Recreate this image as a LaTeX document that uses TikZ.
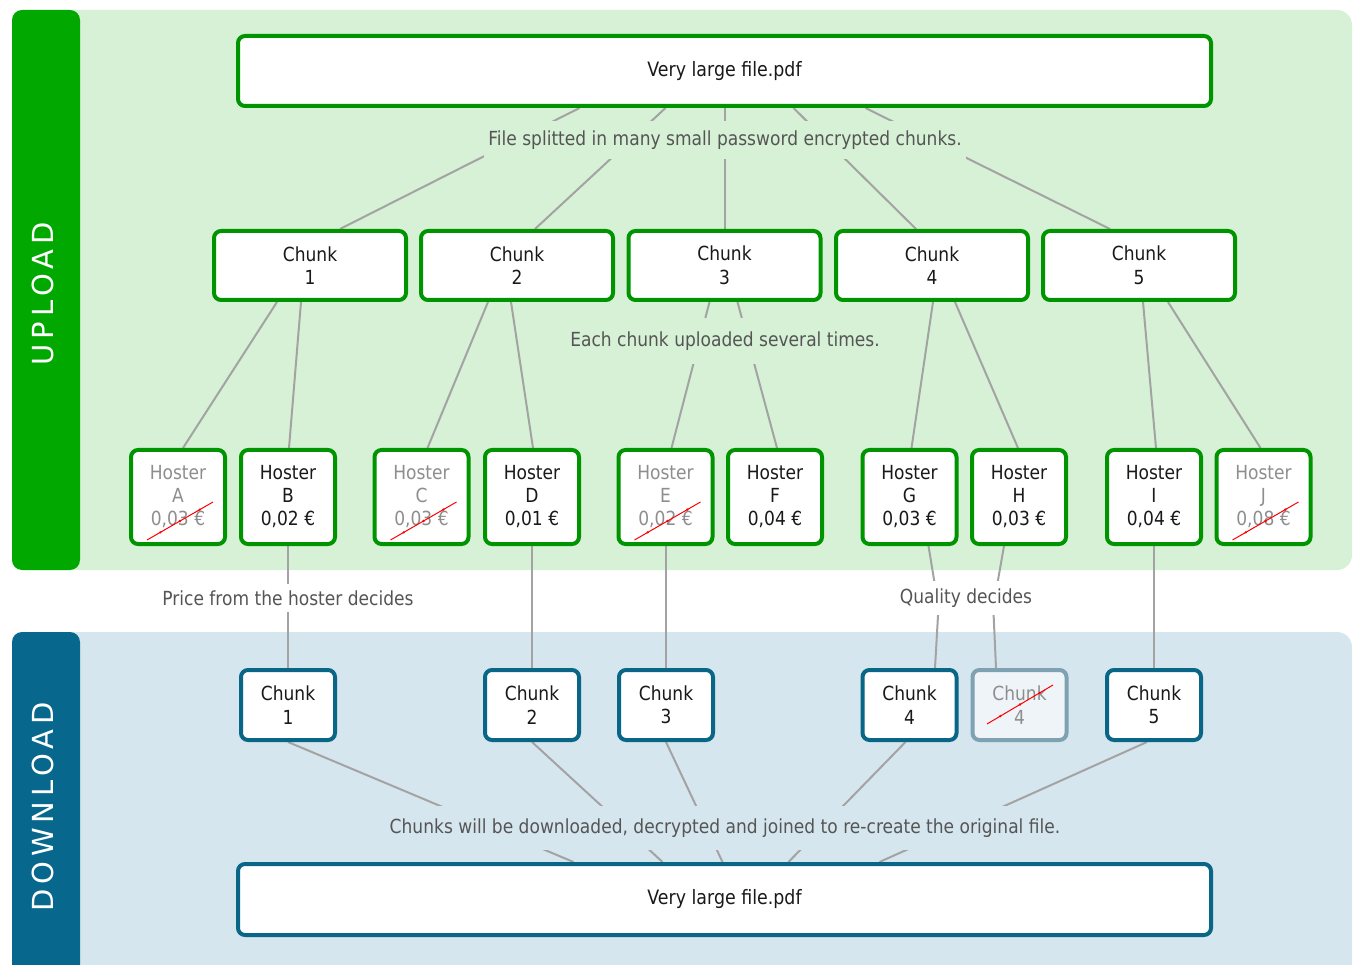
\documentclass[tikz,border=0pt]{standalone}
\usepackage{fontspec}
\setmainfont{DejaVu Sans}[FakeStretch=0.88]
\newfontfamily\titlefont{DejaVu Sans}[LetterSpace=17]
\usetikzlibrary{calc,backgrounds}
\definecolor{upbar}{HTML}{00A800}
\definecolor{upborder}{HTML}{009400}
\definecolor{upbg}{HTML}{D6F1D6}
\definecolor{dlbar}{HTML}{07678C}
\definecolor{dlborder}{HTML}{0A6687}
\definecolor{dlbg}{HTML}{D6E6EE}
\definecolor{deadborder}{HTML}{7FA2B2}
\definecolor{deadfill}{HTML}{EEF4F7}
\definecolor{conncol}{HTML}{A3A3A3}
\definecolor{labcol}{HTML}{555555}
\definecolor{deadtext}{HTML}{8E8E8E}
\tikzset{
  box/.style={draw, line width=4pt, rounded corners=7pt, fill=white, align=center,
    inner sep=0pt, font=\fontsize{19.4}{23.5}\selectfont, text=black!90},
  upbox/.style={box, draw=upborder},
  dlbox/.style={box, draw=dlborder},
  filebox/.style={minimum width=973pt, minimum height=70pt, font=\fontsize{19.8}{23.5}\selectfont},
  chunkbox/.style={minimum width=192pt, minimum height=69pt},
  hosterbox/.style={minimum width=94pt, minimum height=94pt, font=\fontsize{19.4}{23}\selectfont},
  dlchunkbox/.style={minimum width=94pt, minimum height=70pt},
  dead/.style={text=deadtext},
  deaddl/.style={draw=deadborder, fill=deadfill, text=deadtext},
  lab/.style={text=labcol, font=\fontsize{19.4}{22}\selectfont, inner xsep=4pt, inner ysep=10pt},
  conn/.style={draw=conncol, line width=2pt},
  strike/.style={draw=red, line width=1pt},
  title/.style={rotate=90, text=white, font=\titlefont\fontsize{29}{32}\selectfont, inner sep=0pt}
}
\begin{document}
\begin{tikzpicture}[x=1pt,y=-1pt]
\useasboundingbox (0,0) rectangle (1358,965);
\begin{pgfonlayer}{background}
  \fill[upbg, rounded corners=15pt] (12,10) rectangle (1352,570);
  \fill[upbar, rounded corners=10pt] (12,10) rectangle (80,570);
  \fill[dlbg, rounded corners=15pt] (12,632) rectangle (1352,990);
  \fill[dlbar, rounded corners=10pt] (12,632) rectangle (80,990);
\end{pgfonlayer}

\node[title] (tup) at (42.5,294) {UPLOAD};
\node[title] (tdl) at (43.3,807) {DOWNLOAD};

% upload
\node[upbox, filebox] (top) at (724.5,71) {Very large file.pdf};
\node[upbox, chunkbox] (c1) at (310,265.5) {Chunk\\1};
\node[upbox, chunkbox] (c2) at (517,265.5) {Chunk\\2};
\node[upbox, chunkbox] (c3) at (724.5,265.5) {Chunk\\3};
\node[upbox, chunkbox] (c4) at (932,265.5) {Chunk\\4};
\node[upbox, chunkbox] (c5) at (1139,265.5) {Chunk\\5};

\node[upbox, hosterbox, dead] (hA) at (178,497) {Hoster\\A\\0,03 €};
\node[upbox, hosterbox] (hB) at (288,497) {Hoster\\B\\0,02 €};
\node[upbox, hosterbox, dead] (hC) at (421.5,497) {Hoster\\C\\0,03 €};
\node[upbox, hosterbox] (hD) at (532,497) {Hoster\\D\\0,01 €};
\node[upbox, hosterbox, dead] (hE) at (665.5,497) {Hoster\\E\\0,02 €};
\node[upbox, hosterbox] (hF) at (775,497) {Hoster\\F\\0,04 €};
\node[upbox, hosterbox] (hG) at (909.5,497) {Hoster\\G\\0,03 €};
\node[upbox, hosterbox] (hH) at (1019,497) {Hoster\\H\\0,03 €};
\node[upbox, hosterbox] (hI) at (1154,497) {Hoster\\I\\0,04 €};
\node[upbox, hosterbox, dead] (hJ) at (1263.5,497) {Hoster\\J\\0,08 €};

% download
\node[dlbox, dlchunkbox] (d1) at (288,705) {Chunk\\1};
\node[dlbox, dlchunkbox] (d2) at (532,705) {Chunk\\2};
\node[dlbox, dlchunkbox] (d3) at (666,705) {Chunk\\3};
\node[dlbox, dlchunkbox] (d4) at (909.5,705) {Chunk\\4};
\node[dlbox, dlchunkbox, deaddl] (d4x) at (1019.5,705) {Chunk\\4};
\node[dlbox, dlchunkbox] (d5) at (1154,705) {Chunk\\5};
\node[dlbox, filebox, minimum height=71pt] (bot) at (724.5,899.5) {Very large file.pdf};

% labels
\node[lab, fill=upbg] (l1) at (725,140) {File splitted in many small password encrypted chunks.};
\node[lab, fill=upbg, inner ysep=14pt] (l2) at (725,341) {Each chunk uploaded several times.};
\node[lab, fill=white, inner ysep=6pt] (l3) at (288,598) {Price from the hoster decides};
\node[lab, fill=white, inner ysep=8pt] (l4) at (966,598) {Quality decides};
\node[lab, fill=dlbg, inner ysep=13pt] (l5) at (725,828) {Chunks will be downloaded, decrypted and joined to re-create the original file.};

\begin{pgfonlayer}{background}
  % file -> chunks
  \draw[conn] ($(top.south)+(-145,0)$) -- ($(c1.north)+(30,0)$);
  \draw[conn] ($(top.south)+(-59,0)$) -- ($(c2.north)+(18,0)$);
  \draw[conn] (top.south) -- (c3.north);
  \draw[conn] ($(top.south)+(69,0)$) -- ($(c4.north)+(-16,0)$);
  \draw[conn] ($(top.south)+(141,0)$) -- ($(c5.north)+(-29,0)$);
  % chunks -> hosters
  \draw[conn] ($(c1.south)+(-33,0)$) -- ($(hA.north)+(5,0)$);
  \draw[conn] ($(c1.south)+(-9,0)$) -- ($(hB.north)+(1,0)$);
  \draw[conn] ($(c2.south)+(-29,0)$) -- ($(hC.north)+(6,0)$);
  \draw[conn] ($(c2.south)+(-6,0)$) -- ($(hD.north)+(1,0)$);
  \draw[conn] ($(c3.south)+(-15,0)$) -- ($(hE.north)+(6,0)$);
  \draw[conn] ($(c3.south)+(13,0)$) -- ($(hF.north)+(2,0)$);
  \draw[conn] ($(c4.south)+(1,0)$) -- ($(hG.north)+(2,0)$);
  \draw[conn] ($(c4.south)+(23,0)$) -- ($(hH.north)+(-1,0)$);
  \draw[conn] ($(c5.south)+(4,0)$) -- ($(hI.north)+(2,0)$);
  \draw[conn] ($(c5.south)+(29,0)$) -- ($(hJ.north)+(-3,0)$);
  % hosters -> download chunks
  \draw[conn] (hB.south) -- (d1.north);
  \draw[conn] (hD.south) -- (d2.north);
  \draw[conn] ($(hE.south)+(0.5,0)$) -- (d3.north);
  \draw[conn] ($(hG.south)+(19,0)$) -- ($(hG.south)!0.5!(d4.north)+(29,0)$) -- ($(d4.north)+(25.5,0)$);
  \draw[conn] ($(hH.south)+(-15,0)$) -- ($(hH.south)!0.5!(d4x.north)+(-26,0)$) -- ($(d4x.north)+(-23.5,0)$);
  \draw[conn] (hI.south) -- (d5.north);
  % download chunks -> file
  \draw[conn] (d1.south) -- ($(bot.north)+(-151,0)$);
  \draw[conn] (d2.south) -- ($(bot.north)+(-62,0)$);
  \draw[conn] (d3.south) -- ($(bot.north)+(-2,0)$);
  \draw[conn] ($(d4.south)+(-4,0)$) -- ($(bot.north)+(64,0)$);
  \draw[conn] ($(d5.south)+(-7,0)$) -- ($(bot.north)+(155,0)$);
\end{pgfonlayer}

% strikes
\foreach \n in {hA,hC,hE,hJ}{
  \coordinate (s1) at ($(\n.center)+(-31,43)$);
  \coordinate (s2) at ($(\n.center)+(35,5)$);
  \draw[strike] (s1) -- (s2);
  \foreach \t in {0.2,0.5,0.8}
    \fill[red] ($(s1)!\t!(s2)$) circle[radius=1.3pt];
}
\coordinate (s1) at ($(d4x.center)+(-32.5,19)$);
\coordinate (s2) at ($(d4x.center)+(33.5,-20)$);
\draw[strike] (s1) -- (s2);
\foreach \t in {0.2,0.5,0.8}
  \fill[red] ($(s1)!\t!(s2)$) circle[radius=1.3pt];
\end{tikzpicture}
\end{document}
